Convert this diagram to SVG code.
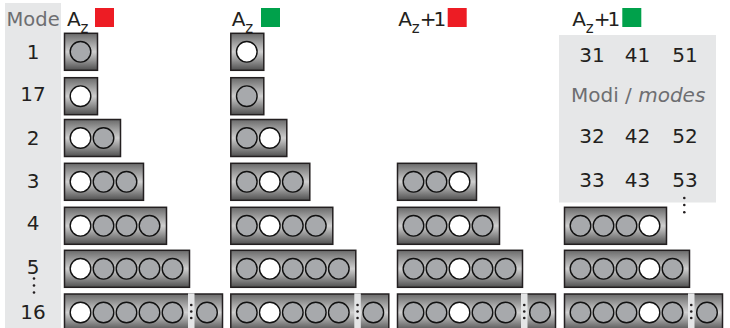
<svg xmlns="http://www.w3.org/2000/svg" width="730" height="328" viewBox="0 0 730 328">
<style>
text{font-family:"DejaVu Sans","Liberation Sans",sans-serif;font-size:20px;fill:#231f20}
.lbl{fill:#6d6e71}
.num{text-anchor:middle}
.sub{font-size:15px}
.p1{letter-spacing:-3px}
.box{fill:url(#bg);stroke:#231f20;stroke-width:1.5}
.g{fill:#a7a9ac;stroke:#111;stroke-width:1.4}
.w{fill:#fff;stroke:#111;stroke-width:1.4}
.strip{fill:#e4e5e6}
.dot{fill:#231f20}
.panel{fill:#e6e7e8}
</style>
<defs>
<linearGradient id="bg" x1="0" y1="0" x2="0" y2="1">
<stop offset="0" stop-color="#6a6a6a"/>
<stop offset="0.5" stop-color="#cfcfcf"/>
<stop offset="1" stop-color="#505050"/>
</linearGradient>
</defs>

<g id="mode-column">
<rect class="panel" x="5" y="3" width="56" height="325"/>
<text class="lbl" x="6.5" y="26" style="font-size:19.5px">Mode</text>
<text class="num" x="33" y="58.5">1</text>
<text class="num" x="33" y="101">17</text>
<text class="num" x="33" y="144.5">2</text>
<text class="num" x="33" y="187.5">3</text>
<text class="num" x="33" y="229.5">4</text>
<text class="num" x="33" y="273.5">5</text>
<circle class="dot" cx="34" cy="278.5" r="1.3"/>
<circle class="dot" cx="34" cy="285.5" r="1.3"/>
<circle class="dot" cx="34" cy="292.5" r="1.3"/>
<text class="num" x="33" y="318.5">16</text>
</g>

<g id="headers">
<text x="67" y="26">A<tspan class="sub" x="80.5" dy="7">z</tspan></text>
<rect x="95" y="8" width="19" height="19" fill="#ed1c24"/>
<text x="231.7" y="26">A<tspan class="sub" x="245.2" dy="7">z</tspan></text>
<rect x="261" y="8" width="19" height="19" fill="#00a14b"/>
<text x="398.3" y="26">A<tspan class="sub" x="411.8" dy="7">z</tspan><tspan class="p1" x="419.8" dy="-7">+1</tspan></text>
<rect x="447.7" y="8" width="19" height="19" fill="#ed1c24"/>
<text x="572.3" y="26">A<tspan class="sub" x="585.8" dy="7">z</tspan><tspan class="p1" x="593.8" dy="-7">+1</tspan></text>
<rect x="622.3" y="8" width="19" height="19" fill="#00a14b"/>
</g>

<g id="panel">
<rect class="panel" x="559" y="35" width="157" height="167.5"/>
<text class="num" x="592" y="61.7">31</text>
<text class="num" x="637.5" y="61.7">41</text>
<text class="num" x="685" y="61.7">51</text>
<text class="lbl" x="571" y="101.7">Modi / <tspan style="font-style:italic">modes</tspan></text>
<text class="num" x="592" y="143.3">32</text>
<text class="num" x="637.5" y="143.3">42</text>
<text class="num" x="685" y="143.3">52</text>
<text class="num" x="592" y="186.8">33</text>
<text class="num" x="637.5" y="186.8">43</text>
<text class="num" x="685" y="186.8">53</text>
<circle class="dot" cx="684.3" cy="198" r="1.3"/>
<circle class="dot" cx="684.3" cy="205" r="1.3"/>
<circle class="dot" cx="684.3" cy="212.3" r="1.3"/>
</g>

<g id="col-az-red">
<rect class="box" x="64.5" y="33.3" width="33" height="37"/>
<circle class="g" cx="80.5" cy="51.8" r="10.3"/>
<rect class="box" x="64.5" y="77.7" width="33" height="37"/>
<circle class="w" cx="80.5" cy="96.2" r="10.3"/>
<rect class="box" x="64.5" y="119.5" width="56" height="37"/>
<circle class="w" cx="80.5" cy="138" r="10.3"/><circle class="g" cx="103.5" cy="138" r="10.3"/>
<rect class="box" x="64.5" y="163.3" width="79" height="37"/>
<circle class="w" cx="80.5" cy="181.8" r="10.3"/><circle class="g" cx="103.5" cy="181.8" r="10.3"/><circle class="g" cx="126.5" cy="181.8" r="10.3"/>
<rect class="box" x="64.5" y="207.3" width="102" height="37"/>
<circle class="w" cx="80.5" cy="225.8" r="10.3"/><circle class="g" cx="103.5" cy="225.8" r="10.3"/><circle class="g" cx="126.5" cy="225.8" r="10.3"/><circle class="g" cx="149.5" cy="225.8" r="10.3"/>
<rect class="box" x="64.5" y="250.3" width="125" height="37"/>
<circle class="w" cx="80.5" cy="268.8" r="10.3"/><circle class="g" cx="103.5" cy="268.8" r="10.3"/><circle class="g" cx="126.5" cy="268.8" r="10.3"/><circle class="g" cx="149.5" cy="268.8" r="10.3"/><circle class="g" cx="172.5" cy="268.8" r="10.3"/>
<rect class="box" x="64.5" y="294" width="158" height="37"/>
<rect class="strip" x="188" y="293.3" width="6.5" height="36"/>
<circle class="dot" cx="191.25" cy="305" r="1.3"/><circle class="dot" cx="191.25" cy="311.5" r="1.3"/><circle class="dot" cx="191.25" cy="318" r="1.3"/>
<circle class="w" cx="80.5" cy="312.5" r="10.3"/><circle class="g" cx="103.5" cy="312.5" r="10.3"/><circle class="g" cx="126.5" cy="312.5" r="10.3"/><circle class="g" cx="149.5" cy="312.5" r="10.3"/><circle class="g" cx="172.5" cy="312.5" r="10.3"/><circle class="g" cx="207" cy="312.5" r="10.3"/>
</g>

<g id="col-az-green">
<rect class="box" x="230.8" y="33.3" width="33" height="37"/>
<circle class="w" cx="246.8" cy="51.8" r="10.3"/>
<rect class="box" x="230.8" y="77.7" width="33" height="37"/>
<circle class="g" cx="246.8" cy="96.2" r="10.3"/>
<rect class="box" x="230.8" y="119.5" width="56" height="37"/>
<circle class="g" cx="246.8" cy="138" r="10.3"/><circle class="w" cx="269.8" cy="138" r="10.3"/>
<rect class="box" x="230.8" y="163.3" width="79" height="37"/>
<circle class="g" cx="246.8" cy="181.8" r="10.3"/><circle class="w" cx="269.8" cy="181.8" r="10.3"/><circle class="g" cx="292.8" cy="181.8" r="10.3"/>
<rect class="box" x="230.8" y="207.3" width="102" height="37"/>
<circle class="g" cx="246.8" cy="225.8" r="10.3"/><circle class="w" cx="269.8" cy="225.8" r="10.3"/><circle class="g" cx="292.8" cy="225.8" r="10.3"/><circle class="g" cx="315.8" cy="225.8" r="10.3"/>
<rect class="box" x="230.8" y="250.3" width="125" height="37"/>
<circle class="g" cx="246.8" cy="268.8" r="10.3"/><circle class="w" cx="269.8" cy="268.8" r="10.3"/><circle class="g" cx="292.8" cy="268.8" r="10.3"/><circle class="g" cx="315.8" cy="268.8" r="10.3"/><circle class="g" cx="338.8" cy="268.8" r="10.3"/>
<rect class="box" x="230.8" y="294" width="158" height="37"/>
<rect class="strip" x="354.3" y="293.3" width="6.5" height="36"/>
<circle class="dot" cx="357.55" cy="305" r="1.3"/><circle class="dot" cx="357.55" cy="311.5" r="1.3"/><circle class="dot" cx="357.55" cy="318" r="1.3"/>
<circle class="g" cx="246.8" cy="312.5" r="10.3"/><circle class="w" cx="269.8" cy="312.5" r="10.3"/><circle class="g" cx="292.8" cy="312.5" r="10.3"/><circle class="g" cx="315.8" cy="312.5" r="10.3"/><circle class="g" cx="338.8" cy="312.5" r="10.3"/><circle class="g" cx="373.3" cy="312.5" r="10.3"/>
</g>

<g id="col-az1-red">
<rect class="box" x="397.5" y="163.3" width="79" height="37"/>
<circle class="g" cx="413.5" cy="181.8" r="10.3"/><circle class="g" cx="436.5" cy="181.8" r="10.3"/><circle class="w" cx="459.5" cy="181.8" r="10.3"/>
<rect class="box" x="397.5" y="207.3" width="102" height="37"/>
<circle class="g" cx="413.5" cy="225.8" r="10.3"/><circle class="g" cx="436.5" cy="225.8" r="10.3"/><circle class="w" cx="459.5" cy="225.8" r="10.3"/><circle class="g" cx="482.5" cy="225.8" r="10.3"/>
<rect class="box" x="397.5" y="250.3" width="125" height="37"/>
<circle class="g" cx="413.5" cy="268.8" r="10.3"/><circle class="g" cx="436.5" cy="268.8" r="10.3"/><circle class="w" cx="459.5" cy="268.8" r="10.3"/><circle class="g" cx="482.5" cy="268.8" r="10.3"/><circle class="g" cx="505.5" cy="268.8" r="10.3"/>
<rect class="box" x="397.5" y="294" width="158" height="37"/>
<rect class="strip" x="521" y="293.3" width="6.5" height="36"/>
<circle class="dot" cx="524.25" cy="305" r="1.3"/><circle class="dot" cx="524.25" cy="311.5" r="1.3"/><circle class="dot" cx="524.25" cy="318" r="1.3"/>
<circle class="g" cx="413.5" cy="312.5" r="10.3"/><circle class="g" cx="436.5" cy="312.5" r="10.3"/><circle class="w" cx="459.5" cy="312.5" r="10.3"/><circle class="g" cx="482.5" cy="312.5" r="10.3"/><circle class="g" cx="505.5" cy="312.5" r="10.3"/><circle class="g" cx="540" cy="312.5" r="10.3"/>
</g>

<g id="col-az1-green">
<rect class="box" x="564.5" y="207.3" width="102" height="37"/>
<circle class="g" cx="580.5" cy="225.8" r="10.3"/><circle class="g" cx="603.5" cy="225.8" r="10.3"/><circle class="g" cx="626.5" cy="225.8" r="10.3"/><circle class="w" cx="649.5" cy="225.8" r="10.3"/>
<rect class="box" x="564.5" y="250.3" width="125" height="37"/>
<circle class="g" cx="580.5" cy="268.8" r="10.3"/><circle class="g" cx="603.5" cy="268.8" r="10.3"/><circle class="g" cx="626.5" cy="268.8" r="10.3"/><circle class="w" cx="649.5" cy="268.8" r="10.3"/><circle class="g" cx="672.5" cy="268.8" r="10.3"/>
<rect class="box" x="564.5" y="294" width="158" height="37"/>
<rect class="strip" x="688" y="293.3" width="6.5" height="36"/>
<circle class="dot" cx="691.25" cy="305" r="1.3"/><circle class="dot" cx="691.25" cy="311.5" r="1.3"/><circle class="dot" cx="691.25" cy="318" r="1.3"/>
<circle class="g" cx="580.5" cy="312.5" r="10.3"/><circle class="g" cx="603.5" cy="312.5" r="10.3"/><circle class="g" cx="626.5" cy="312.5" r="10.3"/><circle class="w" cx="649.5" cy="312.5" r="10.3"/><circle class="g" cx="672.5" cy="312.5" r="10.3"/><circle class="g" cx="707" cy="312.5" r="10.3"/>
</g>
</svg>
